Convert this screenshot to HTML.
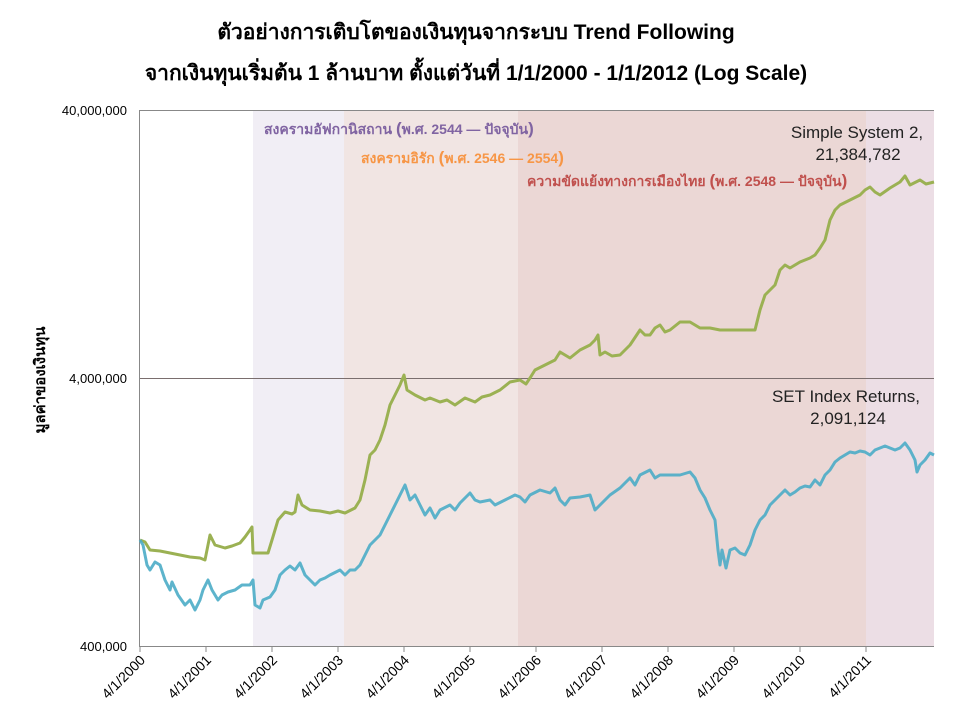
<!DOCTYPE html>
<html><head><meta charset="utf-8"><style>
body{margin:0;background:#fff;width:960px;height:720px;overflow:hidden}
</style></head><body>
<svg width="960" height="720" xmlns="http://www.w3.org/2000/svg" font-family="Liberation Sans, Noto Sans CJK SC, sans-serif">
<text x="476" y="39" text-anchor="middle" font-size="21" font-weight="bold" fill="#000">ตัวอย่างการเติบโตของเงินทุนจากระบบ Trend Following</text>
<text x="476" y="80" text-anchor="middle" font-size="21" font-weight="bold" fill="#000">จากเงินทุนเริ่มต้น 1 ล้านบาท ตั้งแต่วันที่ 1/1/2000 - 1/1/2012 (Log Scale)</text>
<rect x="253" y="110" width="91" height="536" fill="#f1eef5"/>
<rect x="344" y="110" width="174" height="536" fill="#f1e5e3"/>
<rect x="518" y="110" width="348" height="536" fill="#ebd7d5"/>
<rect x="866" y="110" width="68" height="536" fill="#ecdee5"/>
<line x1="140" y1="110.5" x2="934" y2="110.5" stroke="#888"/>
<line x1="140" y1="378.5" x2="934" y2="378.5" stroke="#7a6e6e"/>
<line x1="139.5" y1="110" x2="139.5" y2="647" stroke="#888"/>
<line x1="139" y1="646.5" x2="934" y2="646.5" stroke="#888"/>
<g stroke="#888">
<line x1="140" y1="646" x2="140" y2="652"/><line x1="206" y1="646" x2="206" y2="652"/><line x1="272" y1="646" x2="272" y2="652"/><line x1="338" y1="646" x2="338" y2="652"/><line x1="404" y1="646" x2="404" y2="652"/><line x1="470" y1="646" x2="470" y2="652"/><line x1="536" y1="646" x2="536" y2="652"/><line x1="602" y1="646" x2="602" y2="652"/><line x1="668" y1="646" x2="668" y2="652"/><line x1="734" y1="646" x2="734" y2="652"/><line x1="800" y1="646" x2="800" y2="652"/><line x1="866" y1="646" x2="866" y2="652"/>
</g>
<g font-size="13" fill="#000" text-anchor="end">
<text x="127" y="115">40,000,000</text><text x="127" y="383">4,000,000</text><text x="127" y="651">400,000</text>
</g>
<g font-size="14" fill="#000" text-anchor="end">
<text transform="translate(146,661) rotate(-45)">4/1/2000</text>
<text transform="translate(212,661) rotate(-45)">4/1/2001</text>
<text transform="translate(278,661) rotate(-45)">4/1/2002</text>
<text transform="translate(344,661) rotate(-45)">4/1/2003</text>
<text transform="translate(410,661) rotate(-45)">4/1/2004</text>
<text transform="translate(476,661) rotate(-45)">4/1/2005</text>
<text transform="translate(542,661) rotate(-45)">4/1/2006</text>
<text transform="translate(608,661) rotate(-45)">4/1/2007</text>
<text transform="translate(674,661) rotate(-45)">4/1/2008</text>
<text transform="translate(740,661) rotate(-45)">4/1/2009</text>
<text transform="translate(806,661) rotate(-45)">4/1/2010</text>
<text transform="translate(872,661) rotate(-45)">4/1/2011</text>
</g>
<text transform="translate(45,380) rotate(-90)" text-anchor="middle" font-size="15" font-weight="bold">มูลค่าของเงินทุน</text>
<text x="264" y="134" font-size="14" font-weight="600" fill="#8064a2">สงครามอัฟกานิสถาน <tspan font-size="17">(</tspan>พ.ศ. 2544 — ปัจจุบัน<tspan font-size="17">)</tspan></text>
<text x="361" y="163" font-size="14" font-weight="600" fill="#f79646">สงครามอิรัก <tspan font-size="17">(</tspan>พ.ศ. 2546 — 2554<tspan font-size="17">)</tspan></text>
<text x="527" y="186" font-size="14" font-weight="600" fill="#c0504d">ความขัดแย้งทางการเมืองไทย <tspan font-size="17">(</tspan>พ.ศ. 2548 — ปัจจุบัน<tspan font-size="17">)</tspan></text>
<text x="857" y="138" text-anchor="middle" font-size="17" fill="#222">Simple System 2,</text>
<text x="858" y="160" text-anchor="middle" font-size="17" fill="#222">21,384,782</text>
<text x="846" y="402" text-anchor="middle" font-size="17" fill="#222">SET Index Returns,</text>
<text x="848" y="424" text-anchor="middle" font-size="17" fill="#222">2,091,124</text>
<polyline fill="none" stroke="#9bb153" stroke-width="3" stroke-linejoin="round" points="140,540 145,542 150,550 160,551 170,553 180,555 190,557 200,558 205,560 208,545 210,535 215,545 225,548 232,546 240,543 245,537 250,530 252,527 253,553 268,553 272,540 278,520 285,512 292,514 295,512 298,495 302,505 310,510 320,511 330,513 338,511 345,513 355,508 360,500 365,480 370,455 375,450 380,440 385,425 390,405 395,395 400,385 404,375 407,390 415,395 425,400 430,398 440,402 447,400 455,405 465,398 475,402 482,397 490,395 500,390 510,382 520,380 526,384 530,378 535,370 545,365 555,360 560,352 570,358 580,350 590,345 595,340 598,335 600,355 605,352 612,356 620,355 630,345 640,330 645,335 650,335 655,328 660,325 665,332 670,330 680,322 690,322 700,328 710,328 720,330 740,330 755,330 760,310 765,295 770,290 775,285 780,270 785,265 790,268 800,262 810,258 815,255 820,248 825,240 830,220 835,210 840,205 850,200 860,195 865,190 870,187 875,192 880,195 890,188 900,182 905,176 910,185 920,180 926,184 934,182"/>
<polyline fill="none" stroke="#4bacc6" stroke-width="3" stroke-linejoin="round" stroke-opacity="0.9" points="140,540 143,545 147,565 150,570 155,562 160,565 165,580 170,590 172,582 178,595 185,605 190,600 195,610 200,600 203,590 208,580 212,590 218,600 222,595 228,592 235,590 242,585 250,585 253,580 255,605 260,608 263,600 270,597 275,590 280,575 285,570 290,566 295,570 300,563 305,575 310,580 315,585 320,580 325,578 330,575 340,570 345,575 350,570 355,570 360,565 365,555 370,545 375,540 380,535 385,525 390,515 395,505 400,495 405,485 410,500 415,495 420,505 425,515 430,508 435,518 440,510 450,505 455,510 460,503 470,493 475,500 480,502 490,500 495,505 505,500 515,495 520,497 525,502 530,495 540,490 550,493 555,488 560,500 565,505 570,498 580,497 590,495 595,510 600,505 610,495 620,488 630,478 635,485 640,475 650,470 655,478 660,475 670,475 680,475 690,472 695,478 700,490 705,498 710,510 715,520 718,550 720,565 722,550 726,568 730,550 735,548 740,553 745,555 750,545 755,530 760,520 765,515 770,505 775,500 780,495 785,490 790,495 795,492 800,488 805,486 810,487 815,480 820,485 825,475 830,470 835,462 840,458 845,455 850,452 855,453 860,451 865,452 870,455 875,450 880,448 885,446 890,448 895,450 900,448 905,443 910,450 915,460 917,472 920,465 925,460 930,453 934,455"/>
</svg>
</body></html>
